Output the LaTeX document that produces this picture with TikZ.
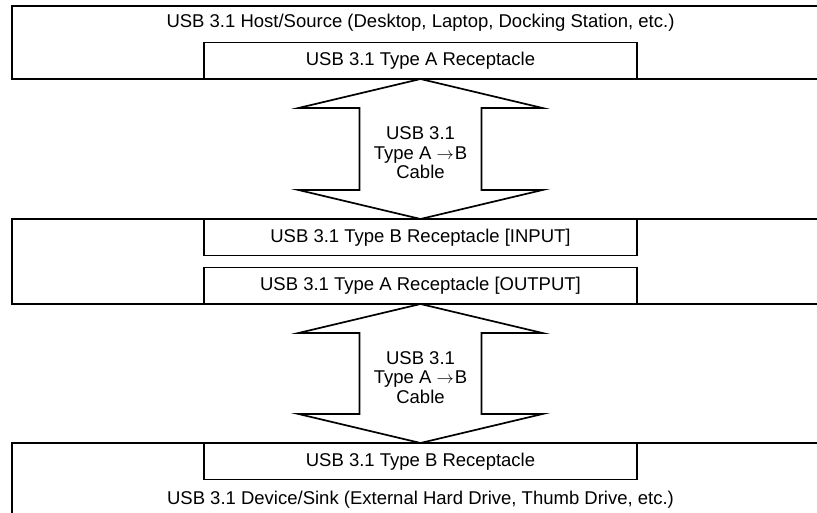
\documentclass[tikz,border=0pt]{standalone}
\usepackage{fontspec}
\setmainfont{Liberation Sans}
\usetikzlibrary{calc}

\begin{document}
\begin{tikzpicture}[x=1pt,y=-1pt,
   box/.style={draw,line width=1.7pt,minimum width=433pt,minimum height=36.5pt,inner sep=0pt,outer sep=0pt},
   cable/.style={line width=1.7pt,line join=miter},
   txt/.style={font=\fontsize{18.5}{19.5}\selectfont,align=center}]
   \useasboundingbox (0,0) rectangle (817,513);
   \clip (0,0) rectangle (817,513);
   % the three units, cut off at the page edge
   \draw [line width=1.7pt] (12,6) rectangle (840,79);
   \draw [line width=1.7pt] (12,219) rectangle (840,304);
   \draw [line width=1.7pt] (12,443) rectangle (840,540);
   \node[txt,anchor=base] (host) at (420.5,28) {USB 3.1 Host/Source (Desktop, Laptop, Docking Station, etc.)};
   \node[txt,anchor=base] (sink) at (420.5,504) {USB 3.1 Device/Sink (External Hard Drive, Thumb Drive, etc.)};
   % receptacles
   \node[box,txt,anchor=south] (recA) at (420.5,79) {USB 3.1 Type A Receptacle};
   \node[box,txt,anchor=north] (recIn) at (420.5,219) {USB 3.1 Type B Receptacle [INPUT]};
   \node[box,txt,anchor=south] (recOut) at (420.5,304) {USB 3.1 Type A Receptacle [OUTPUT]};
   \node[box,txt,anchor=north] (recB) at (420.5,443) {USB 3.1 Type B Receptacle};
   % cables
   \foreach \a/\b in {recA/recIn,recOut/recB} {
      \draw[cable] (\a.south) -- ++(-122,29) -- ++(61,0) -- ($(\b.north)+(-61,-29)$) -- ++(-61,0)
         -- (\b.north) -- ++(122,-29) -- ++(-61,0) -- ($(\a.south)+(61,29)$) -- ++(61,0) -- cycle;
      \node[txt] (cab-\a) at ($(\a.south)!0.5!(\b.north)+(0,4)$) {USB 3.1\\Type A $\rightarrow$\kern1pt B\\Cable};
   }
\end{tikzpicture}
\end{document}
